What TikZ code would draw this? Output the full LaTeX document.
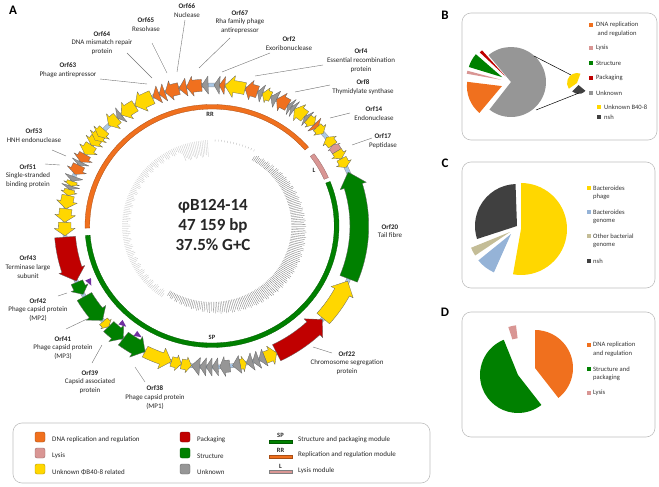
\documentclass[tikz,border=0pt]{standalone}
\usepackage{fontspec}
\setmainfont{Carlito}
\usetikzlibrary{calc}
\definecolor{cOr}{RGB}{240,112,30}
\definecolor{cRed}{RGB}{192,0,0}
\definecolor{cGr}{RGB}{0,128,0}
\definecolor{cGy}{RGB}{150,150,150}
\definecolor{cYe}{RGB}{255,215,0}
\definecolor{cPk}{RGB}{217,150,148}
\definecolor{cBl}{RGB}{170,200,230}
\definecolor{cDk}{RGB}{64,64,64}
\definecolor{cLb}{RGB}{149,179,215}
\definecolor{cTan}{RGB}{196,189,151}
\definecolor{cPu}{RGB}{112,48,160}
\def\GR{141}
\newcommand\garrow[6]{%
 \pgfmathsetmacro\gTa{#1-90}\pgfmathsetmacro\gTb{#2-90}\pgfmathsetmacro\gTn{#3-90}%
 \pgfmathsetmacro\gRo{\GR+#5}\pgfmathsetmacro\gRi{\GR-#5}\pgfmathsetmacro\gHo{\GR+#6}\pgfmathsetmacro\gHi{\GR-#6}%
 \filldraw[gene,fill=#4] (\gTa:\gRo) arc[start angle=\gTa,end angle=\gTn,radius=\gRo] -- (\gTn:\gHo) -- (\gTb:\GR) -- (\gTn:\gHi) -- (\gTn:\gRi) arc[start angle=\gTn,end angle=\gTa,radius=\gRi] -- cycle;}
% ccw arrow: tip, tail, headlen, colour, b, H
\newcommand\gc[6]{\garrow{#2}{#1}{#1+#3}{#4}{#5}{#6}}
% cw arrow: tail, tip, headlen, colour, b, H
\newcommand\gw[6]{\garrow{#1}{#2}{#2-#3}{#4}{#5}{#6}}
% triangle: tail, tip, colour, H
\newcommand\gtri[4]{%
 \pgfmathsetmacro\gTa{#1-90}\pgfmathsetmacro\gTb{#2-90}%
 \pgfmathsetmacro\gHo{\GR+#4}\pgfmathsetmacro\gHi{\GR-#4}%
 \filldraw[gene,fill=#3] (\gTa:\gHo) -- (\gTb:\GR) -- (\gTa:\gHi) -- cycle;}
\newcommand\modarc[3]{%
 \pgfmathsetmacro\mdA{#1-90}\pgfmathsetmacro\mdB{#2-90}%
 \filldraw[fill=#3,draw=#3!70!black,line width=0.3pt] (\mdA:121.5) arc[start angle=\mdA,end angle=\mdB,radius=121.5] -- (\mdB:117) arc[start angle=\mdB,end angle=\mdA,radius=117] -- cycle;}
\newcommand\pmark[1]{%
 \pgfmathsetmacro\gTa{#1+1.3-90}\pgfmathsetmacro\gTb{#1-1.8-90}%
 \fill[cPu] (\gTa:127) -- (\gTb:130) -- (\gTa:133) -- cycle;}
\newcommand\pslice[6]{\begin{scope}[shift={(#1,#2)}]\pgfmathsetmacro\psA{-(#4)}\pgfmathsetmacro\psB{-(#5)}\fill[#6] (0,0) -- (\psA:#3) arc[start angle=\psA,end angle=\psB,radius=#3] -- cycle;\end{scope}}
\begin{document}
\begin{tikzpicture}[x=1pt,y=-1pt,
  gene/.style={draw=black!60,line width=0.3pt,line join=round},
  ptr/.style={draw=black!55,line width=0.4pt},
  lab/.style={font=\fontsize{7}{8.8}\selectfont,align=center,inner sep=0pt,text=black!85},
  leg/.style={font=\fontsize{7}{8.8}\selectfont,anchor=west,inner sep=0pt,text=black!85},
  pleg/.style={font=\fontsize{6.6}{8}\selectfont,anchor=west,inner sep=0pt,text=black!80},
  panel/.style={font=\fontsize{13}{13}\selectfont\bfseries,inner sep=0pt},
  box/.style={draw=black!25,line width=0.6pt,rounded corners=9pt},
  tickd/.style={draw=black!58,line width=0.28pt},
  tickl/.style={draw=black!25,line width=0.28pt},
  modlab/.style={font=\fontsize{6.5}{7}\selectfont\bfseries,inner sep=0pt,text=black!85}]
\useasboundingbox (0,0) rectangle (659,487);
\node[panel] (pA) at (13,10) {A};
\node[panel] (pB) at (445,15) {B};
\node[panel] (pC) at (445,163) {C};
\node[panel] (pD) at (445,312) {D};
% ---------------- circular map ----------------
\begin{scope}[shift={(212,226)},xscale=1.045]
 % inner skew plot
 \foreach \ang in {30.3,31.5,...,212}{%
  \pgfmathsetmacro\tA{\ang-90}%
  \pgfmathsetmacro\tR{80+9*sin((\ang-30)*0.989)+2.5*abs(sin(\ang*47))}%
  \draw[tickd] (\tA:76) -- (\tA:\tR);}
 \foreach \ang in {214.3,215.5,...,358}{%
  \pgfmathsetmacro\tA{\ang-90}%
  \pgfmathsetmacro\tR{86-4-4*abs(sin(\ang*37))-9*(\ang>339)}%
  \draw[tickl] (\tA:\tR) -- (\tA:86);}
 \foreach \ang in {2,4,...,28}{%
  \pgfmathsetmacro\tA{\ang-90}%
  \draw[draw=black!30,line width=0.3pt] (\tA:84.5) -- (\tA:86.5);}
 % module ring
 \modarc{269}{409.5}{cOr}
 \modarc{53.5}{66.5}{cPk}
 \modarc{68.5}{265.5}{cGr}
 % backbone
 \draw[line width=4.4pt,black!40] (0,0) circle[radius=\GR];
 \draw[line width=3.4pt,cBl] (0,0) circle[radius=\GR];
 % genes
 \gc{341.5}{347}{2.5}{cOr}{6}{10}
 \gtri{350}{347}{cOr}{9}
 \gc{350}{356}{2.5}{cOr}{6}{10}
 \gtri{358.5}{356}{cGy}{9}
 \gtri{3}{0.8}{cGy}{9}
 \gtri{5}{2.8}{cOr}{9}
 \gc{5}{13}{3.5}{cYe}{6}{11}
 \gc{13}{18}{2.5}{cOr}{6}{10}
 \gtri{20}{18}{cGy}{9}
 \gc{20}{23.5}{2}{cYe}{5}{8}
 \gtri{26}{23.5}{cGy}{9}
 \gc{26}{31}{2.5}{cOr}{6}{10}
 \gtri{32.5}{31}{cGy}{9}
 \gtri{34}{32.5}{cGy}{9}
 \gc{34}{39}{2.5}{cYe}{6}{10}
 \gtri{40.5}{39}{cGy}{9}
 \gw{40.5}{44}{2}{cYe}{5}{8}
 \gtri{44}{46}{cOr}{9}
 \gw{45.5}{49}{2}{cYe}{5}{8}
 \gc{51}{55}{2}{cYe}{5}{8}
 \gc{55}{58}{1}{cPk}{5}{7}
 \gw{58}{61.5}{2}{cYe}{5}{8}
 \gw{61.5}{65.5}{2}{cYe}{5}{8}
 \gc{67.5}{112}{6}{cGr}{9}{13}
 \gc{113}{131}{5}{cYe}{8}{12}
 \gc{131.5}{154}{5}{cRed}{9}{13}
 \gc{154}{159}{2.5}{cYe}{6}{10}
 \gtri{159}{161.5}{cGy}{9}
 \gtri{161.5}{164}{cGy}{9}
 \gtri{164}{166.5}{cGy}{9}
 \gc{166.5}{169}{1.5}{cYe}{5}{8}
 \gtri{169}{172}{cGy}{9}
 \gw{173}{177}{2}{cGy}{6}{10}
 \gtri{177.6}{180}{cGy}{9}
 \gtri{180}{182.3}{cGy}{9}
 \gtri{182.3}{184.8}{cGy}{9}
 \gtri{184.8}{188}{cGy}{9}
 \gc{188}{192}{2}{cYe}{5}{8}
 \gc{192}{196}{2}{cYe}{5}{8}
 \gc{196}{207}{4}{cYe}{6}{11}
 \gc{207}{217}{4}{cGr}{8}{12}
 \gc{217}{224.5}{3.5}{cGr}{7}{11}
 \gc{224.5}{227.5}{1.5}{cYe}{5}{7}
 \gc{228}{240}{4}{cGr}{8}{12}
 \gc{241}{246.5}{3}{cGr}{6}{9}
 \gc{247}{265.5}{5}{cRed}{10}{13}
 \gc{266}{271.5}{3}{cYe}{6}{10}
 \gc{271.5}{277}{3}{cYe}{6}{10}
 \gc{277}{282.5}{3}{cYe}{6}{10}
 \gc{282.5}{285}{1.5}{cYe}{5}{8}
 \gtri{286.5}{285}{cGy}{9}
 \gc{286.5}{288.5}{1.2}{cYe}{5}{8}
 \gtri{290.5}{288.5}{cGy}{9}
 \gc{291.5}{295.5}{2}{cOr}{6}{10}
 \gtri{297}{295.5}{cGy}{9}
 \gc{297}{300.5}{2}{cOr}{6}{10}
 \gc{300.5}{305}{2.5}{cYe}{6}{10}
 \gc{305}{308.5}{2}{cYe}{6}{10}
 \gc{307.5}{310.5}{2}{cYe}{6}{10}
 \gc{309.5}{313}{2}{cYe}{6}{10}
 \gc{315.5}{320}{2.5}{cYe}{6}{10}
 \gtri{322}{320}{cGy}{9}
 \gc{322}{328.5}{3}{cYe}{6}{10}
 \gc{328.5}{336}{3.5}{cYe}{7}{11}
 \gtri{339}{336.3}{cOr}{9}
 \gtri{341.3}{339}{cOr}{9}
 % purple markers
 \pmark{244.5}\pmark{221}\pmark{213}
\end{scope}
\node[modlab] (mRR) at (210,114) {RR};
\node[modlab] (mL) at (314,170) {L};
\node[modlab] (mSP) at (212,337) {SP};
\node[font=\fontsize{17}{20}\selectfont\bfseries,align=center,text=black!85] (title) at (213,225) {φB124-14\\47 159 bp\\37.5\% G+C};
% ---------------- gene labels ----------------
\node[lab] (l66) at (187,10.5) {\textbf{Orf66}\\Nuclease};
\node[lab] (l65) at (146,24.5) {\textbf{Orf65}\\Resolvase};
\node[lab] (l67) at (240,22) {\textbf{Orf67}\\Rha family phage\\antirepressor};
\node[lab] (l64) at (102,43) {\textbf{Orf64}\\DNA mismatch repair\\protein};
\node[lab] (l2) at (289,43.5) {\textbf{Orf2}\\Exoribonuclease};
\node[lab] (l63) at (68,70.5) {\textbf{Orf63}\\Phage antirepressor};
\node[lab] (l4) at (361,60.5) {\textbf{Orf4}\\Essential recombination\\protein};
\node[lab] (l8) at (363,87.5) {\textbf{Orf8}\\Thymidylate synthase};
\node[lab] (l14) at (374,113.5) {\textbf{Orf14}\\Endonuclease};
\node[lab] (l17) at (383,141.5) {\textbf{Orf17}\\Peptidase};
\node[lab] (l53) at (34,135.5) {\textbf{Orf53}\\HNH endonuclease};
\node[lab] (l51) at (28,176) {\textbf{Orf51}\\Single-stranded\\binding protein};
\node[lab] (l20) at (390,231) {\textbf{Orf20}\\Tail fibre};
\node[lab] (l43) at (28,267) {\textbf{Orf43}\\Terminase large\\subunit};
\node[lab] (l42) at (38,310) {\textbf{Orf42}\\Phage capsid protein\\(MP2)};
\node[lab] (l41) at (63,348) {\textbf{Orf41}\\Phage capsid protein\\(MP3)};
\node[lab] (l39) at (90,382) {\textbf{Orf39}\\Capsid associated\\protein};
\node[lab] (l38) at (155,397.5) {\textbf{Orf38}\\Phage capsid protein\\(MP1)};
\node[lab] (l22) at (347,363) {\textbf{Orf22}\\Chromosome segregation\\protein};
% pointers
\draw[ptr] (100,79) coordinate (a63) -- (147,84) coordinate (b63);
\draw[ptr] (127,53) coordinate (a64) -- (152,78) coordinate (b64);
\draw[ptr] (152,43) coordinate (a65) -- (167,73) coordinate (b65);
\draw[ptr] (185,20) coordinate (a66) -- (177,72) coordinate (b66);
\draw[ptr] (230,38) coordinate (a67) -- (199,68) coordinate (b67);
\draw[ptr] (270,53) coordinate (a2) -- (222,72) coordinate (b2);
\draw[ptr] (323,65) coordinate (a4) -- (255,76) coordinate (b4);
\draw[ptr] (330,85) coordinate (a8) -- (295,92) coordinate (b8);
\draw[ptr] (350,113) coordinate (a14) -- (330,118) coordinate (b14);
\draw[ptr] (372,138) coordinate (a17) -- (352,145) coordinate (b17);
\draw[ptr] (52,150) coordinate (a53) -- (66,156) coordinate (b53);
\draw[ptr] (45,164) coordinate (a51) -- (60,165) coordinate (b51);
\draw[ptr] (58,296) coordinate (a42) -- (67,293) coordinate (b42);
\draw[ptr] (66,329) coordinate (a41) -- (87,319) coordinate (b41);
\draw[ptr] (92,363) coordinate (a39) -- (102,345) coordinate (b39);
\draw[ptr] (145,382) coordinate (a38) -- (135,367) coordinate (b38);
\draw[ptr] (313,347) coordinate (a22) -- (332,353) coordinate (b22);
% ---------------- bottom legend ----------------
\draw[box] (13,423) rectangle (430,483);
\filldraw[fill=cOr,draw=cOr!70!black,rounded corners=2pt] (35,432) rectangle (45,442);
\filldraw[fill=cPk,draw=cPk!70!black,rounded corners=2pt] (35,448) rectangle (45,458);
\filldraw[fill=cYe,draw=cYe!70!black,rounded corners=2pt] (35,464) rectangle (45,474);
\filldraw[fill=cRed,draw=cRed!70!black,rounded corners=2pt] (180,432) rectangle (190,442);
\filldraw[fill=cGr,draw=cGr!70!black,rounded corners=2pt] (180,448) rectangle (190,458);
\filldraw[fill=cGy,draw=cGy!70!black,rounded corners=2pt] (180,464) rectangle (190,474);
\node[leg] (t1) at (52,440) {DNA replication and regulation};
\node[leg] (t2) at (52,456) {Lysis};
\node[leg] (t3) at (52,472) {Unknown ΦB40-8 related};
\node[leg] (t4) at (197,440) {Packaging};
\node[leg] (t5) at (197,456) {Structure};
\node[leg] (t6) at (197,472) {Unknown};
\filldraw[fill=cGr,draw=cGr!70!black,line width=0.3pt] (269,440.5) rectangle (292,443.5);
\filldraw[fill=cOr,draw=cOr!70!black,line width=0.3pt] (269,455) rectangle (292,458);
\filldraw[fill=cPk,draw=black!50,line width=0.3pt] (269,470.5) rectangle (292,473.5);
\node[modlab] (kSP) at (280.5,435.5) {SP};
\node[modlab] (kRR) at (280.5,450.5) {RR};
\node[modlab] (kL) at (280.5,466) {L};
\node[leg] (t7) at (298,439.5) {Structure and packaging module};
\node[leg] (t8) at (298,455) {Replication and regulation module};
\node[leg] (t9) at (298,471) {Lysis module};
% ---------------- panel B ----------------
\draw[box] (462,13) rectangle (657,140);
\pslice{511}{82}{35}{-128}{130}{cGy}
\pslice{505.4}{76.3}{35}{132}{137}{cRed}
\pslice{502.3}{77.2}{35}{139}{163}{cGr}
\pslice{501.2}{79.8}{35}{165}{170}{cPk}
\pslice{501.9}{86.1}{35}{173}{230}{cOr}
\pslice{577}{83}{10}{70}{215}{cYe}
\pslice{578.5}{85}{9}{225}{320}{cDk}
\draw[line width=0.5pt] (534,56) coordinate (zb1) -- (571,75) coordinate (zs1);
\draw[line width=0.5pt] (536,110) coordinate (zb2) -- (579,93) coordinate (zs2);
\fill[cOr] (589,23) rectangle (593,27);
\fill[cPk] (589,46) rectangle (593,50);
\fill[cGr] (589,61) rectangle (593,65);
\fill[cRed] (589,76) rectangle (593,80);
\fill[cGy] (589,91) rectangle (593,95);
\fill[cYe] (597,105) rectangle (601,109);
\fill[cDk] (597,115) rectangle (601,119);
\node[pleg] (b1) at (596,25) {DNA replication};
\node[pleg] (b1b) at (597.5,34) {and regulation};
\node[pleg] (b2) at (596,48) {Lysis};
\node[pleg] (b3) at (596,63) {Structure};
\node[pleg] (b4) at (596,78) {Packaging};
\node[pleg] (b5) at (596,93) {Unknown};
\node[pleg] (b6) at (604,107) {Unknown B40-8};
\node[pleg] (b7) at (604,117) {nsh};
% ---------------- panel C ----------------
\draw[box] (462,162) rectangle (655,288);
\pslice{521}{229}{46}{-100}{90}{cYe}
\pslice{517}{226}{42}{92}{198}{cDk}
\pslice{510}{232}{42}{202}{214}{cTan}
\pslice{511}{234}{42}{219}{246}{cLb}
\fill[cYe] (587,186) rectangle (591,190);
\fill[cLb] (587,210) rectangle (591,214);
\fill[cTan] (587,234) rectangle (591,238);
\fill[cDk] (587,259) rectangle (591,263);
\node[pleg] (c1) at (593,188) {Bacteroides};
\node[pleg] (c1b) at (593,197) {phage};
\node[pleg] (c2) at (593,212) {Bacteroides};
\node[pleg] (c2b) at (593,221) {genome};
\node[pleg] (c3) at (593,236) {Other bacterial};
\node[pleg] (c3b) at (593,245) {genome};
\node[pleg] (c4) at (593,261) {nsh};
% ---------------- panel D ----------------
\draw[box] (462,312) rectangle (655,437);
\pslice{535}{368}{38}{-52}{90}{cOr}
\pslice{518}{375}{38}{112}{308}{cGr}
\begin{scope}[shift={(521,366)}]
 \fill[cPk] (-97:41) arc[start angle=-97,end angle=-108,radius=41] -- (-108:28) arc[start angle=-108,end angle=-97,radius=28] -- cycle;
\end{scope}
\fill[cOr] (587,343) rectangle (591,347);
\fill[cGr] (587,367) rectangle (591,371);
\fill[cPk] (587,391) rectangle (591,395);
\node[pleg] (d1) at (593,345) {DNA replication};
\node[pleg] (d1b) at (593,354) {and regulation};
\node[pleg] (d2) at (593,369) {Structure and};
\node[pleg] (d2b) at (593,378) {packaging};
\node[pleg] (d3) at (593,393) {Lysis};
\end{tikzpicture}
\end{document}
